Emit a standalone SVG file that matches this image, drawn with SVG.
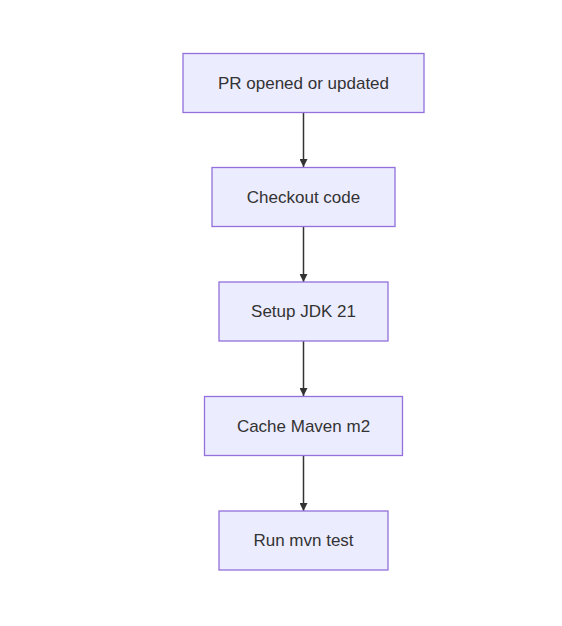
<svg xmlns="http://www.w3.org/2000/svg" width="562" height="626" viewBox="0 0 562 626">
<defs>
<style>
.node rect{fill:#ECECFF;stroke:#9370DB;stroke-width:1.3}
.node text{font-family:"Trebuchet MS","Liberation Sans","DejaVu Sans",sans-serif;font-size:17px;fill:#333333;text-anchor:middle;dominant-baseline:central}
.edge{stroke:#333333;stroke-width:1.5;fill:none}
</style>
<marker id="arrow" viewBox="0 0 10 10" refX="10" refY="5" markerWidth="8" markerHeight="8" markerUnits="userSpaceOnUse" orient="auto">
<path d="M0,0 L10,5 L0,10 z" fill="#333333"/>
</marker>
</defs>
<rect width="562" height="626" fill="#ffffff"/>
<g id="edges">
<line class="edge" x1="303.5" y1="113" x2="303.5" y2="167" marker-end="url(#arrow)"/>
<line class="edge" x1="303.5" y1="227" x2="303.5" y2="282" marker-end="url(#arrow)"/>
<line class="edge" x1="303.5" y1="341" x2="303.5" y2="396" marker-end="url(#arrow)"/>
<line class="edge" x1="303.5" y1="456" x2="303.5" y2="511" marker-end="url(#arrow)"/>
</g>
<g id="n1" class="node"><rect x="183" y="53.5" width="241" height="59"/><text x="303.5" y="83">PR opened or updated</text></g>
<g id="n2" class="node"><rect x="212" y="167.5" width="183" height="59"/><text x="303.5" y="197">Checkout code</text></g>
<g id="n3" class="node"><rect x="219" y="282" width="169" height="59"/><text x="303.5" y="311.5">Setup JDK 21</text></g>
<g id="n4" class="node"><rect x="204.5" y="396.5" width="198" height="59"/><text x="303.5" y="426">Cache Maven m2</text></g>
<g id="n5" class="node"><rect x="219" y="511" width="169" height="59"/><text x="303.5" y="540.5">Run mvn test</text></g>
</svg>
